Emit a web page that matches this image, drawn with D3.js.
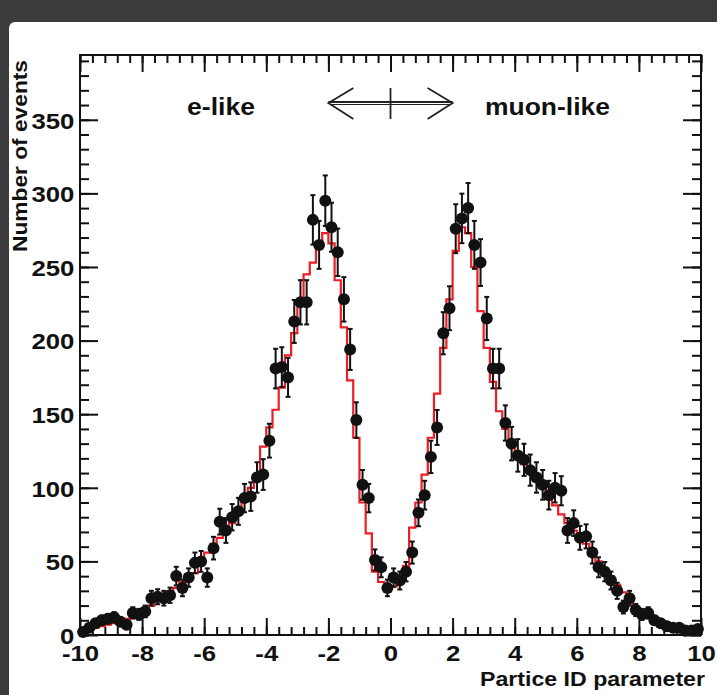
<!DOCTYPE html>
<html><head><meta charset="utf-8">
<script src="https://cdn.jsdelivr.net/npm/d3@7"></script>
<style>
html,body{margin:0;padding:0;background:#3b3b3b;}
svg{display:block;}
text{font-family:"Liberation Sans",Arial,Helvetica,sans-serif;font-weight:bold;fill:#111;}
</style></head>
<body>
<svg id="c" width="717" height="695"></svg>
<script>
// ---- data (100 bins of width 0.2 from -10 to 10) ----
const binEdges = d3.range(0, 101).map(i => -10 + i * 0.2);
const dataCounts = [2,5,8,10,11,12,9,7,15,14,16,25,26,25,27,40,32,39,49,50,
  39,59,77,71,80,84,93,94,107,109,132,181,182,175,213,226,226,282,265,295,
  277,260,228,194,146,102,93,51,46,32,39,37,43,56,83,95,121,141,205,222,
  276,283,290,265,253,215,181,181,144,130,122,119,112,107,102,95,100,98,71,76,
  66,67,56,46,43,37,30,19,25,17,14,15,10,8,6,5,5,3,3,4];
const mcCounts = [2,3,5,6,7,8,9,11,13,15,18,20,23,26,29,32,36,39,42,49,
  56,62,66,72,76,85,93,100,107,128,141,153,168,190,205,226,245,253,265,273,
  266,241,209,173,134,90,69,43,36,30,33,39,47,73,90,109,134,164,195,228,
  261,277,273,250,220,195,172,152,140,130,122,116,111,106,100,95,88,82,76,71,
  66,62,56,50,45,40,34,29,24,19,16,13,10,8,6,5,4,3,2,2];
const xMajorTicks = [-10,-8,-6,-4,-2,0,2,4,6,8,10];
const yMajorTicks = [0,50,100,150,200,250,300,350];
const xTitle = "Partice ID parameter";
const yTitle = "Number of events";
const leftLabel = "e-like", rightLabel = "muon-like";

const svg = d3.select("#c");
// white card
svg.append("rect").attr("x",9).attr("y",22).attr("width",720).attr("height",690).attr("rx",6).attr("fill","#fff");

const x = d3.scaleLinear().domain([-10,10]).range([80,701]);
const y = d3.scaleLinear().domain([0,394]).range([635,55]);
const xMinor = d3.range(-10, 10.001, 0.4).map(v => +v.toFixed(2));
const yMinor = d3.range(0, 394, 10);

function axis(gen, scale, vals, size, tr, labels) {
  const a = gen(scale).tickValues(vals).tickSizeInner(-size).tickSizeOuter(0).tickPadding(6);
  if (!labels) a.tickFormat("");
  const g = svg.append("g").attr("transform", tr).call(a);
  g.select(".domain").remove();
  g.selectAll("line").attr("stroke","#111").attr("stroke-width",2);
  return g;
}
// bottom
axis(d3.axisBottom, x, xMinor, 8, "translate(0,635)", false);
const gb = axis(d3.axisBottom, x, xMajorTicks, 17, "translate(0,635)", true);
gb.selectAll("text").attr("font-size",23).attr("dy","0.71em").attr("y",10)
  .attr("transform","scale(1.12,1)").text(d=>d);
// top
axis(d3.axisTop, x, xMinor, 8, "translate(0,55)", false);
axis(d3.axisTop, x, xMajorTicks, 17, "translate(0,55)", false);
// left
axis(d3.axisLeft, y, yMinor, 9, "translate(80,0)", false);
const gl = axis(d3.axisLeft, y, yMajorTicks, 18, "translate(80,0)", true);
gl.selectAll("text").attr("font-size",23).attr("x",-5).attr("dy","0.36em")
  .attr("transform","scale(1.12,1)").text(d=>d);
// right
axis(d3.axisRight, y, yMinor, 9, "translate(701,0)", false);
axis(d3.axisRight, y, yMajorTicks, 18, "translate(701,0)", false);

// frame
svg.append("rect").attr("x",80).attr("y",55).attr("width",621).attr("height",580)
  .attr("fill","none").attr("stroke","#111").attr("stroke-width",2);

// MC histogram (step)
const stepPts = mcCounts.map((v,i)=>[binEdges[i], v]).concat([[binEdges[100], mcCounts[99]]]);
svg.append("path")
  .attr("d", d3.line().x(d=>x(d[0])).y(d=>y(d[1])).curve(d3.curveStepAfter)(stepPts))
  .attr("fill","none").attr("stroke","#ee1c24").attr("stroke-width",2.2);

// data points with sqrt(N) error bars
const pts = dataCounts.map((v,i)=>({xc:(binEdges[i]+binEdges[i+1])/2, v, e:Math.sqrt(v)}));
const gp = svg.append("g");
gp.selectAll("line.eb").data(pts).join("line").attr("class","eb")
  .attr("x1",d=>x(d.xc)).attr("x2",d=>x(d.xc))
  .attr("y1",d=>y(Math.max(0,d.v-d.e))).attr("y2",d=>y(d.v+d.e))
  .attr("stroke","#111").attr("stroke-width",2);
["lo","hi"].forEach(k=>{
  gp.selectAll("line.c"+k).data(pts).join("line").attr("class","c"+k)
    .attr("x1",d=>x(d.xc)-2.5).attr("x2",d=>x(d.xc)+2.5)
    .attr("y1",d=>y(k==="hi"?d.v+d.e:Math.max(0,d.v-d.e)))
    .attr("y2",d=>y(k==="hi"?d.v+d.e:Math.max(0,d.v-d.e)))
    .attr("stroke","#111").attr("stroke-width",2);
});
gp.selectAll("circle").data(pts).join("circle")
  .attr("cx",d=>x(d.xc)).attr("cy",d=>y(d.v)).attr("r",6).attr("fill","#111");

// annotations
svg.append("text").attr("x",187).attr("y",115).attr("font-size",23)
  .attr("textLength",68).attr("lengthAdjust","spacingAndGlyphs").text(leftLabel);
svg.append("text").attr("x",485).attr("y",115).attr("font-size",23)
  .attr("textLength",125).attr("lengthAdjust","spacingAndGlyphs").text(rightLabel);
const ag = svg.append("g").attr("stroke","#222").attr("stroke-width",1.8).attr("fill","none");
ag.append("line").attr("x1",x(-2)).attr("x2",x(2)).attr("y1",102).attr("y2",102);
ag.append("line").attr("x1",x(-2)+3).attr("x2",x(2)-3).attr("y1",104.5).attr("y2",104.5).attr("stroke-width",1);
ag.append("polyline").attr("points",`${x(-2)+25},88 ${x(-2)},103 ${x(-2)+25},119`);
ag.append("polyline").attr("points",`${x(2)-25},88 ${x(2)},103 ${x(2)-25},119`);
ag.append("line").attr("x1",x(0)).attr("x2",x(0)).attr("y1",88).attr("y2",119);

// titles
svg.append("text").attr("x",705).attr("y",686).attr("font-size",21).attr("text-anchor","end")
  .attr("textLength",225).attr("lengthAdjust","spacingAndGlyphs").text(xTitle);
svg.append("text").attr("transform","translate(27,252) rotate(-90)").attr("font-size",20)
  .attr("textLength",192).attr("lengthAdjust","spacingAndGlyphs").text(yTitle);
</script>
</body></html>
